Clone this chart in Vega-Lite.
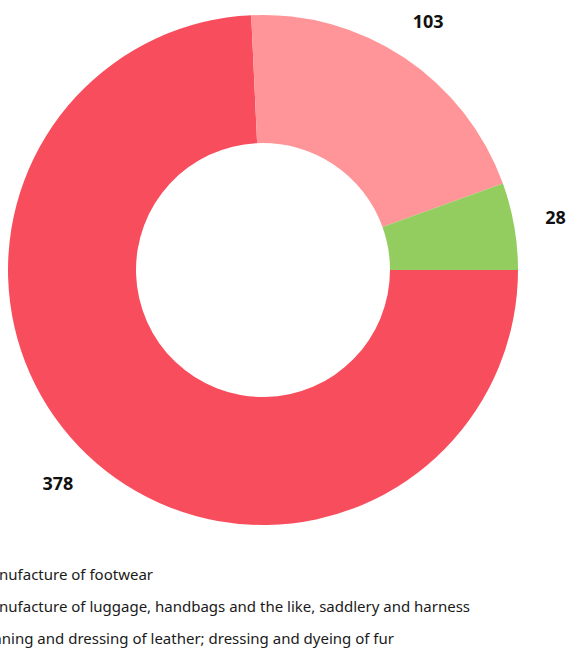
{
  "$schema": "https://vega.github.io/schema/vega-lite/v6.json",
  "width": 526,
  "height": 540,
  "autosize": {"type": "none"},
  "padding": {"left": 0, "top": 0, "right": 40, "bottom": 108},
  "background": "white",
  "data": {
    "values": [
      {"category": "Manufacture of footwear", "value": 378},
      {"category": "Manufacture of luggage, handbags and the like, saddlery and harness", "value": 103},
      {"category": "Tanning and dressing of leather; dressing and dyeing of fur", "value": 28}
    ]
  },
  "encoding": {
    "theta": {"field": "value", "type": "quantitative", "stack": true, "scale": {"range": [1.5707963, 7.8539816]}},
    "order": {"field": "category", "type": "nominal", "sort": "ascending"},
    "color": {
      "field": "category",
      "type": "nominal",
      "scale": {
        "domain": ["Manufacture of footwear", "Manufacture of luggage, handbags and the like, saddlery and harness", "Tanning and dressing of leather; dressing and dyeing of fur"],
        "range": ["#F84D5C", "#FF9598", "#93CC5F"]
      },
      "legend": {
        "title": null,
        "orient": "none",
        "legendX": -46,
        "legendY": 567,
        "direction": "vertical",
        "symbolType": "circle",
        "symbolSize": 100,
        "labelOffset": 8,
        "labelFont": "Noto Sans",
        "labelFontSize": 15,
        "labelColor": "#1a1a1a",
        "labelLimit": 800,
        "rowPadding": 16,
        "padding": 0
      }
    }
  },
  "layer": [
    {
      "mark": {"type": "arc", "innerRadius": 127, "outerRadius": 255}
    },
    {
      "mark": {"type": "text", "radius": 297, "font": "Noto Sans", "fontSize": 18, "fontWeight": "bold"},
      "encoding": {
        "text": {"field": "value", "type": "quantitative"},
        "fill": {"value": "#111111"}
      }
    }
  ],
  "config": {"view": {"stroke": null}}
}
